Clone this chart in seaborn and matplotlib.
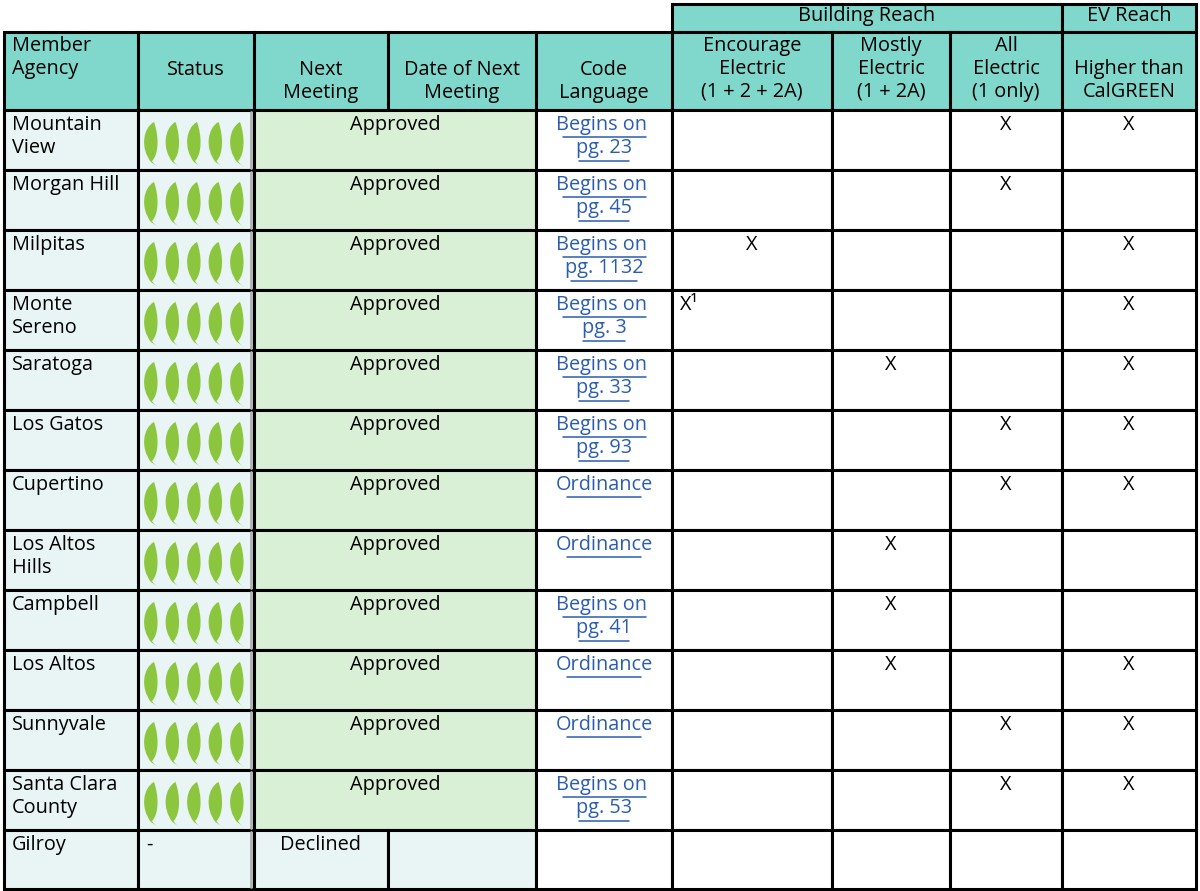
import numpy as np
import pandas as pd
import seaborn as sns
import matplotlib.pyplot as plt
from matplotlib.path import Path
from matplotlib.patches import Rectangle

agencies = ["Mountain\nView", "Morgan Hill", "Milpitas", "Monte\nSereno", "Saratoga", "Los Gatos",
            "Cupertino", "Los Altos\nHills", "Campbell", "Los Altos", "Sunnyvale",
            "Santa Clara\nCounty", "Gilroy"]
leaves = [5, 5, 5, 5, 5, 5, 5, 5, 5, 5, 5, 5, 0]
meeting = ["Approved"] * 12 + ["Declined"]
code_lang = ["Begins on \npg. 23", "Begins on \npg. 45", "Begins on \npg. 1132", "Begins on \npg. 3",
             "Begins on \npg. 33", "Begins on \npg. 93", "Ordinance", "Ordinance", "Begins on \npg. 41",
             "Ordinance", "Ordinance", "Begins on \npg. 53", ""]
encourage = ["", "", "X", "X\u00b9", "", "", "", "", "", "", "", "", ""]
mostly = ["", "", "", "", "X", "", "", "X", "X", "X", "", "", ""]
all_elec = ["X", "X", "", "", "", "X", "X", "", "", "", "X", "X", ""]
ev_reach = ["X", "", "X", "X", "X", "X", "X", "", "", "X", "X", "X", ""]

col_x = [4, 138, 254, 388, 536, 672, 832, 950, 1062, 1196]
row_y = [110 + 60 * i for i in range(14)]
row_y[-1] = 889

TEAL = "#80d8cc"
PALE = "#e8f5f4"
GREEN = "#d9efd6"
LINK = "#2a5db0"
LEAF = "#8cc63f"

sns.set_style("white")
plt.rcParams["font.family"] = ["Open Sans", "DejaVu Sans"]
fig = plt.figure(figsize=(12, 8.91), dpi=100)
ax = fig.add_axes([0, 0, 1, 1])

FS = 14.3
LS = 1.2


def rect(x0, y0, x1, y1, fc, lw=2.2, ec="black", z=1):
    ax.add_patch(Rectangle((x0, y0), x1 - x0, y1 - y0, fc=fc, ec=ec, lw=lw, zorder=z))


def txt(x, y, s, ha="center", color="black", **kw):
    ax.text(x, y, s, ha=ha, va="top", fontsize=FS, color=color, linespacing=LS, **kw)


# group header
rect(672, 4, 1062, 32, TEAL)
rect(1062, 4, 1196, 32, TEAL)
txt(867, 6, "Building Reach")
txt(1129, 6, "EV Reach")

# header row
headers = ["Member\nAgency", "Status", "Next\nMeeting", "Date of Next\nMeeting", "Code\nLanguage",
           "Encourage\nElectric\n(1 + 2 + 2A)", "Mostly\nElectric\n(1 + 2A)", "All\nElectric\n(1 only)",
           "\nHigher than\nCalGREEN"]
tops = [36, 60, 60, 60, 60, 36, 36, 36, 36]
for i, h in enumerate(headers):
    rect(col_x[i], 32, col_x[i + 1], 110, TEAL)
    if i == 0:
        txt(col_x[0] + 8, tops[i], h, ha="left")
    else:
        txt((col_x[i] + col_x[i + 1]) / 2, tops[i], h)

# body
for r in range(13):
    y0, y1 = row_y[r], row_y[r + 1]
    rect(col_x[0], y0, col_x[1], y1, PALE)
    rect(col_x[1], y0, col_x[2], y1, PALE)
    txt(col_x[0] + 8, y0 + 5, agencies[r], ha="left")
    if meeting[r] == "Approved":
        rect(col_x[2], y0, col_x[4], y1, GREEN)
        txt((col_x[2] + col_x[4]) / 2, y0 + 5, "Approved")
    else:
        rect(col_x[2], y0, col_x[3], y1, PALE)
        rect(col_x[3], y0, col_x[4], y1, PALE)
        txt((col_x[2] + col_x[3]) / 2, y0 + 5, meeting[r])
        txt(col_x[1] + 8, y0 + 5, "-", ha="left")
    ax.plot([col_x[2] - 3, col_x[2] - 3], [y0 + 2, y1 - 2], color="#b0b0b0", lw=2, zorder=2)
    for c in range(4, 9):
        rect(col_x[c], y0, col_x[c + 1], y1, "white")
    if code_lang[r]:
        cx = (col_x[4] + col_x[5]) / 2
        txt(cx, y0 + 5, code_lang[r], color=LINK)
        for k, ln in enumerate(code_lang[r].split("\n")):
            w = len(ln) * 8.3
            yy = y0 + 27 + 24 * k
            ax.plot([cx - w / 2, cx + w / 2], [yy, yy], color=LINK, lw=1.1, zorder=3)
    for c, vals in zip([5, 6, 7, 8], [encourage, mostly, all_elec, ev_reach]):
        v = vals[r]
        if v == "X":
            txt((col_x[c] + col_x[c + 1]) / 2, y0 + 5, v)
        elif v:
            txt(col_x[c] + 8, y0 + 5, v, ha="left")

# leaves as markers
verts = [(0.0, -1.0), (-0.55, -0.3), (-0.4, 0.7), (0.15, 1.0),
         (0.4, 0.3), (0.4, -0.6), (0.05, -0.95),
         (0.15, -1.1), (0.25, -1.2), (0.35, -1.25), (0.0, -1.0)]
codes = [Path.MOVETO, Path.CURVE4, Path.CURVE4, Path.CURVE4,
         Path.CURVE4, Path.CURVE4, Path.CURVE4,
         Path.CURVE4, Path.CURVE4, Path.CURVE4, Path.CLOSEPOLY]
leaf = Path(verts, codes)
pts = []
for r, n in enumerate(leaves):
    for k in range(n):
        pts.append({"x": 151 + 21.5 * k, "y": (row_y[r] + row_y[r + 1]) / 2 + 2})
df = pd.DataFrame(pts)
sns.scatterplot(data=df, x="x", y="y", marker=leaf, s=1300, color=LEAF, edgecolor="none", ax=ax, zorder=4)
ax.set_xlim(0, 1200)
ax.set_ylim(891, 0)
ax.axis("off")

fig.savefig("out.png", dpi=100)
